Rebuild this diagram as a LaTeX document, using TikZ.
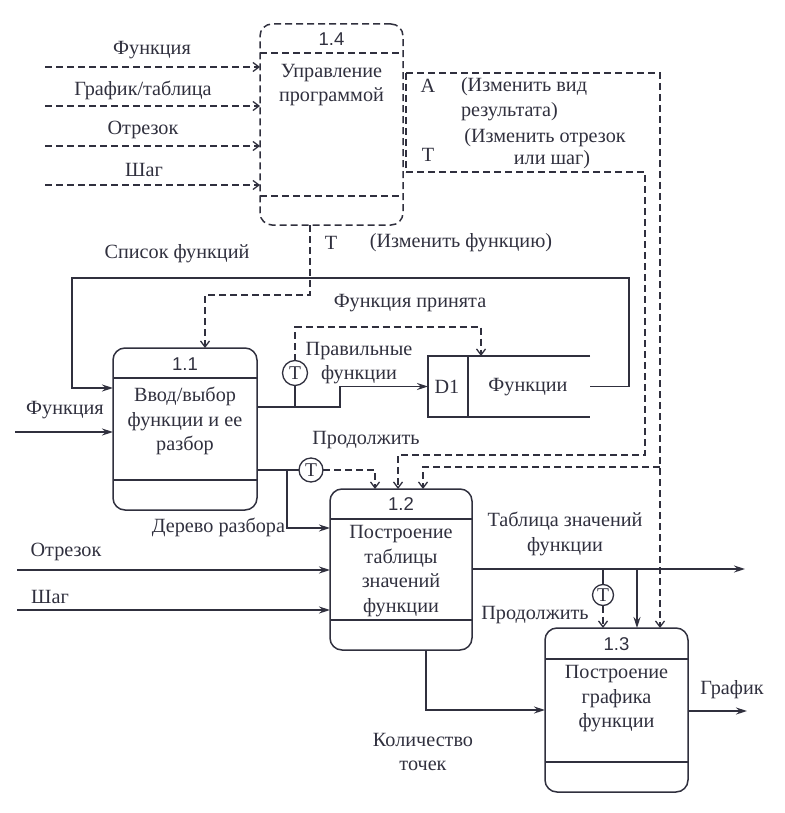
\documentclass[tikz,border=0pt]{standalone}
\usepackage{fontspec}
\setmainfont{Liberation Serif}
\newfontfamily\numfont{Liberation Sans}
\usetikzlibrary{arrows.meta}
\definecolor{ink}{RGB}{48,48,62}
\begin{document}
\begin{tikzpicture}[x=1pt,y=-1pt,
  every node/.style={inner sep=0pt, outer sep=0pt, text=ink},
  txt/.style={font=\fontsize{20.2}{24.5}\selectfont, align=center},
  numtxt/.style={font=\numfont\fontsize{18.5}{20}\selectfont},
  procbox/.style={draw=ink, line width=1.5pt, rounded corners=12pt},
  dproc/.style={procbox, dash pattern=on 7pt off 4pt},
  flow/.style={draw=ink, line width=1.5pt},
  flowarrow/.style={flow, -{Stealth[length=11pt,width=7pt]}},
  ctl/.style={draw=ink, line width=1.3pt, dash pattern=on 7pt off 4pt},
  ctlarrow/.style={ctl, -{Straight Barb[length=6pt,width=9pt]}},
  tcirc/.style={draw=ink, line width=1.3pt, circle, minimum size=#1, font=\fontsize{19.5}{20}\selectfont}
]
\useasboundingbox (0,0) rectangle (784,813);

% ---------- process boxes ----------
\node[dproc, minimum width=143pt, minimum height=201pt] (p14) at (331.5,124.5) {};
\node[procbox, minimum width=144pt, minimum height=162pt] (p11) at (185,429) {};
\node[procbox, minimum width=142pt, minimum height=161pt] (p12) at (401,569.5) {};
\node[procbox, minimum width=143pt, minimum height=164pt] (p13) at (616.5,710) {};

% dividers
\coordinate (h14) at (0,53);  \coordinate (b14) at (0,196);
\coordinate (h11) at (0,378); \coordinate (b11) at (0,480);
\coordinate (h12) at (0,519); \coordinate (b12) at (0,620);
\coordinate (h13) at (0,659); \coordinate (b13) at (0,762);
\draw[ctl] (p14.west |- h14) -- (p14.east |- h14);
\draw[ctl] (p14.west |- b14) -- (p14.east |- b14);
\draw[flow] (p11.west |- h11) -- (p11.east |- h11);
\draw[flow] (p11.west |- b11) -- (p11.east |- b11);
\draw[flow] (p12.west |- h12) -- (p12.east |- h12);
\draw[flow] (p12.west |- b12) -- (p12.east |- b12);
\draw[flow] (p13.west |- h13) -- (p13.east |- h13);
\draw[flow] (p13.west |- b13) -- (p13.east |- b13);

% box texts
\node[numtxt] (n14) at (331.5,39) {1.4};
\node[txt] (t14) at (331.5,85) {Управление\\программой};
\node[numtxt] (n11) at (185,364) {1.1};
\node[txt] (t11) at (185,421) {Ввод/выбор\\функции и ее\\разбор};
\node[numtxt] (n12) at (401,504) {1.2};
\node[txt] (t12) at (401,571) {Построение\\таблицы\\значений\\функции};
\node[numtxt] (n13) at (616.5,644) {1.3};
\node[txt] (t13) at (616.5,699) {Построение\\графика\\функции};

% ---------- data store D1 ----------
\node[minimum width=162pt, minimum height=61pt] (d1) at (509,386.5) {};
\draw[flow] (d1.north east) -- (d1.north west) -- (d1.south west) -- (d1.south east);
\coordinate (d1div) at (468,0);
\draw[flow] (d1div |- d1.north) -- (d1div |- d1.south);
\node[txt] (d1id) at (447,387) {D1};
\node[txt] (d1name) at (528,387) {Функции};

% ---------- inputs to 1.4 ----------
\coordinate (i1) at (45,67);  \coordinate (i2) at (45,106);
\coordinate (i3) at (45,146); \coordinate (i4) at (45,185);
\draw[ctlarrow] (i1) -- (i1 -| p14.west);
\draw[ctlarrow] (i2) -- (i2 -| p14.west);
\draw[ctlarrow] (i3) -- (i3 -| p14.west);
\draw[ctlarrow] (i4) -- (i4 -| p14.west);
\node[txt] (li1) at (152,50) {Функция};
\node[txt] (li2) at (143,90) {График/таблица};
\node[txt] (li3) at (143,130) {Отрезок};
\node[txt] (li4) at (144,170) {Шаг};

% ---------- outputs of 1.4 ----------
\coordinate (a0) at (406,73);  \coordinate (aR) at (660,73);
\coordinate (t0) at (406,172); \coordinate (tR) at (645,172);
\coordinate (tD) at (645,455); \coordinate (tL) at (398,455);
\coordinate (aB) at (660,467); \coordinate (aL) at (423,467);
\draw[ctl] (a0) -- (t0);
\draw[ctlarrow] (a0) -- (aR) -- (aR |- p13.north);
\draw[ctlarrow] (t0) -- (tR) -- (tD) -- (tL) -- (tL |- p12.north);
\draw[ctlarrow] (aB) -- (aL) -- (aL |- p12.north);
\node[txt] (lA) at (428,86) {A};
\node[txt, anchor=west] (lA1) at (461,87) {(Изменить вид};
\node[txt, anchor=west] (lA2) at (461,112) {результата)};
\node[txt] (lT1a) at (545,138) {(Изменить отрезок};
\node[txt] (lT1b) at (552,160) {или шаг)};
\node[txt] (lT) at (428,155) {T};

% 1.4 -> 1.1 (change function)
\coordinate (f0) at (310,0); \coordinate (f1) at (310,295); \coordinate (f2) at (205,295);
\draw[ctlarrow] (f0 |- p14.south) -- (f1) -- (f2) -- (f2 |- p11.north);
\node[txt] (lTf) at (331,243) {T};
\node[txt] (lTf2) at (461,243) {(Изменить функцию)};

% ---------- list of functions loop ----------
\coordinate (s1) at (629,386.5); \coordinate (s2) at (629,278);
\coordinate (s3) at (72,278);    \coordinate (s4) at (72,388);
\draw[flowarrow] (d1.east) -- (s1) -- (s2) -- (s3) -- (s4) -- (s4 -| p11.west);
\node[txt] (lsf) at (177,254) {Список функций};

% input function to 1.1
\coordinate (fi) at (15,432);
\draw[flowarrow] (fi) -- (fi -| p11.west);
\node[txt] (lfi) at (65,410) {Функция};

% ---------- 1.1 -> D1 ----------
\node[tcirc=25pt] (c1) at (295,373) {T};
\coordinate (r0) at (0,407); \coordinate (r1) at (340,407); \coordinate (r2) at (340,386.5);
\draw[flowarrow] (p11.east |- r0) -- (r1) -- (r2) -- (d1.west);
\draw[flow] (c1.south) -- (c1.south |- r0);
\coordinate (k1) at (295,327); \coordinate (k2) at (481,327);
\draw[ctlarrow] (c1.north) -- (k1) -- (k2) -- (k2 |- d1.north);
\node[txt] (lfp) at (410,303) {Функция принята};
\node[txt] (lpf) at (359,363) {Правильные\\функции};

% ---------- 1.1 -> 1.2 ----------
\node[tcirc=24pt] (c2) at (311,470) {T};
\coordinate (g0) at (287,470); \coordinate (g1) at (287,528);
\draw[flow] (p11.east |- c2) -- (c2.west);
\draw[flowarrow] (g0) -- (g1) -- (g1 -| p12.west);
\coordinate (e1) at (375,470);
\draw[ctlarrow] (c2.east) -- (e1) -- (e1 |- p12.north);
\node[txt] (lpr1) at (366,440) {Продолжить};
\node[txt, anchor=east] (ldr) at (285,527) {Дерево разбора};

% inputs to 1.2
\coordinate (o1) at (17,570); \coordinate (o2) at (17,610);
\draw[flowarrow] (o1) -- (o1 -| p12.west);
\draw[flowarrow] (o2) -- (o2 -| p12.west);
\node[txt] (lo1) at (66,552) {Отрезок};
\node[txt] (lo2) at (50,597) {Шаг};

% ---------- 1.2 outputs ----------
\coordinate (v0) at (0,569); \coordinate (v1) at (745,569);
\draw[flowarrow] (p12.east |- v0) -- (v1);
\node[txt] (ltz) at (565,534) {Таблица значений\\функции};
\node[tcirc=21pt] (c3) at (603,595) {T};
\coordinate (j1) at (603,569); \coordinate (j2) at (637,569);
\draw[flow] (j1) -- (c3.north);
\draw[ctlarrow] (c3.south) -- (c3.south |- p13.north);
\draw[flowarrow] (j2) -- (j2 |- p13.north);
\node[txt] (lpr2) at (535,615) {Продолжить};

\coordinate (m0) at (426,0); \coordinate (m1) at (426,710);
\draw[flowarrow] (m0 |- p12.south) -- (m1) -- (m1 -| p13.west);
\node[txt] (lkt) at (423,752) {Количество\\точек};

% ---------- 1.3 output ----------
\coordinate (gr0) at (0,711); \coordinate (gr1) at (747,711);
\draw[flowarrow] (p13.east |- gr0) -- (gr1);
\node[txt] (lgr) at (732,690) {График};
\end{tikzpicture}
\end{document}
